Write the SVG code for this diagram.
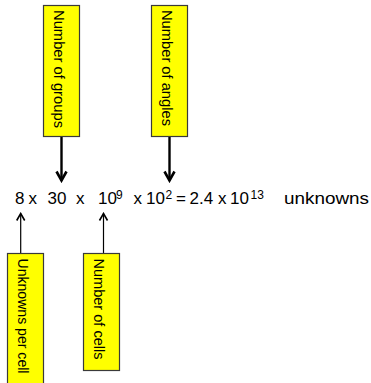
<svg xmlns="http://www.w3.org/2000/svg" width="371" height="383" viewBox="0 0 371 383">
  <style>
    .box { fill: #ffff00; stroke: #3a3a3a; stroke-width: 1.2; }
    .lbl { font-family: "Liberation Sans", Arial, sans-serif; font-size: 15.5px; fill: #000; }
    .eq { font-family: "Liberation Sans", Arial, sans-serif; font-size: 17px; fill: #000; }
    .sup { font-family: "Liberation Sans", Arial, sans-serif; font-size: 12px; fill: #000; }
    .thick { stroke: #000; stroke-width: 2.4; fill: none; }
    .thin { stroke: #000; stroke-width: 1.2; fill: none; }
  </style>
  <defs>
    <marker id="headThick" markerUnits="userSpaceOnUse" viewBox="-12 -7 14 14" markerWidth="14" markerHeight="14" refX="0" refY="0" orient="auto">
      <path d="M-9,-5 L0,0 L-9,5" fill="none" stroke="#000" stroke-width="2.6"/>
    </marker>
    <marker id="headThin" markerUnits="userSpaceOnUse" viewBox="-10 -6 12 12" markerWidth="12" markerHeight="12" refX="0" refY="0" orient="auto">
      <path d="M-7,-4 L0,0 L-7,4" fill="none" stroke="#000" stroke-width="1.6"/>
    </marker>
  </defs>

  <g id="connectors">
    <line class="thick" x1="61.5" y1="137" x2="61.5" y2="180.5" marker-end="url(#headThick)"/>
    <line class="thick" x1="169.5" y1="137" x2="169.5" y2="180.5" marker-end="url(#headThick)"/>
    <line class="thin" x1="20.7" y1="253.5" x2="20.7" y2="213.5" marker-end="url(#headThin)"/>
    <line class="thin" x1="103.5" y1="253.5" x2="103.5" y2="213.5" marker-end="url(#headThin)"/>
  </g>

  <g id="node-groups">
    <rect class="box" x="43.5" y="5.5" width="36" height="131"/>
    <text class="lbl" transform="translate(53.5,10) rotate(90)" textLength="118" lengthAdjust="spacingAndGlyphs">Number of groups</text>
  </g>

  <g id="node-angles">
    <rect class="box" x="151.5" y="5.5" width="36" height="131"/>
    <text class="lbl" transform="translate(161.8,10) rotate(90)" textLength="116" lengthAdjust="spacingAndGlyphs">Number of angles</text>
  </g>

  <g id="node-unknowns-per-cell">
    <rect class="box" x="7.5" y="253.5" width="36" height="140"/>
    <text class="lbl" transform="translate(17.5,258.5) rotate(90)" textLength="115" lengthAdjust="spacingAndGlyphs">Unknowns per cell</text>
  </g>

  <g id="node-cells">
    <rect class="box" x="83.5" y="253.5" width="36" height="117"/>
    <text class="lbl" transform="translate(93.5,258.5) rotate(90)" textLength="101" lengthAdjust="spacingAndGlyphs">Number of cells</text>
  </g>

  <g id="formula">
    <text class="eq" x="15" y="204">8</text>
    <text class="eq" x="28.5" y="204">x</text>
    <text class="eq" x="47.5" y="204">30</text>
    <text class="eq" x="76" y="204">x</text>
    <text class="eq" x="98" y="204">10</text>
    <text class="sup" x="116" y="198.5">9</text>
    <text class="eq" x="133.5" y="204">x</text>
    <text class="eq" x="146" y="204">10</text>
    <text class="sup" x="165.5" y="198.5">2</text>
    <text class="eq" x="176" y="204">=</text>
    <text class="eq" x="189.5" y="204">2.4</text>
    <text class="eq" x="218" y="204">x</text>
    <text class="eq" x="230" y="204">10</text>
    <text class="sup" x="250.5" y="198.5">13</text>
    <text class="eq" x="284" y="204" textLength="85" lengthAdjust="spacingAndGlyphs">unknowns</text>
  </g>
</svg>
